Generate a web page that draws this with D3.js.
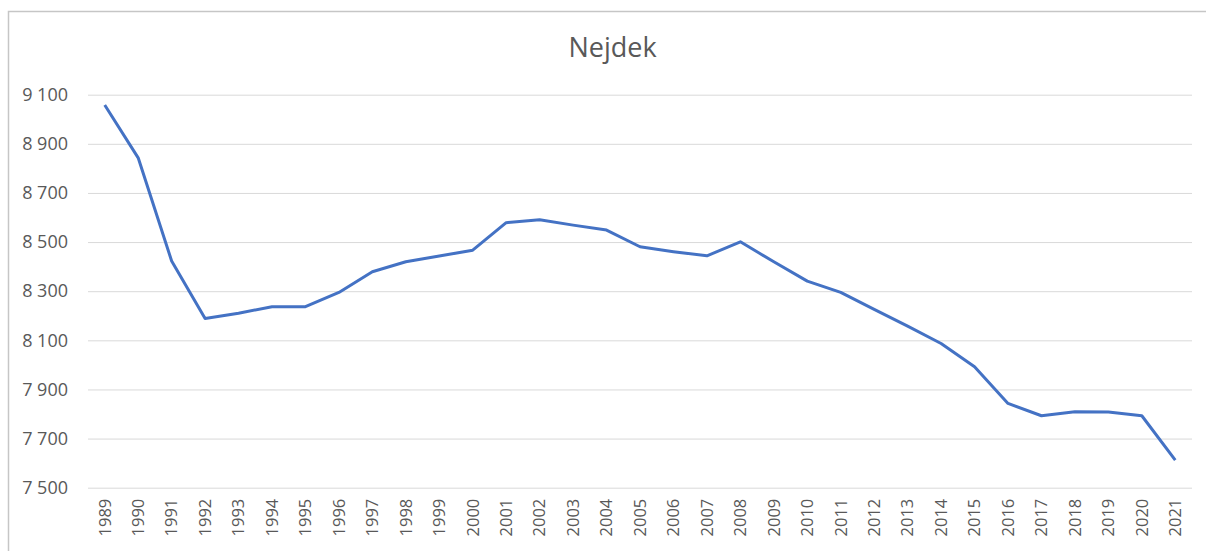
<!DOCTYPE html>
<html>
<head>
<meta charset="utf-8">
<script src="https://cdn.jsdelivr.net/npm/d3@7"></script>
<style>
  body { margin: 0; background: #fff; }
  svg { display: block; font-family: 'Open Sans', sans-serif; }
</style>
</head>
<body>
<svg id="chart"></svg>
<script>
// roky a počet obyvatel
const years = ['1989', '1990', '1991', '1992', '1993', '1994', '1995', '1996', '1997', '1998', '1999',
  '2000', '2001', '2002', '2003', '2004', '2005', '2006', '2007', '2008', '2009', '2010',
  '2011', '2012', '2013', '2014', '2015', '2016', '2017', '2018', '2019', '2020', '2021']
const population = [9058, 8843, 8423, 8189, 8210, 8237, 8237, 8295, 8379, 8420, 8443,
  8467, 8579, 8591, 8569, 8549, 8481, 8461, 8444, 8501, 8420, 8341,
  8295, 8226, 8158, 8087, 7992, 7843, 7793, 7809, 7808, 7793, 7612]
const yTicks = [7500, 7700, 7900, 8100, 8300, 8500, 8700, 8900, 9100]
const title = 'Nejdek'

const width = 1206
const height = 551
const plotLeft = 88
const plotRight = 1192
const plotTop = 94.7
const plotBottom = 487.7
const textColor = '#595959'

let svg = d3.select('#chart').attr('width', width).attr('height', height)

// rámeček grafu
svg.append('rect')
  .attr('x', 8.5).attr('y', 11.5)
  .attr('width', 1300).attr('height', 700)
  .attr('fill', 'none')
  .attr('stroke', '#c6c6c6')
  .attr('stroke-width', 1.5)

let scaleX = d3.scaleBand().domain(years).range([plotLeft, plotRight])
let scaleY = d3.scaleLinear().domain([7500, 9100]).range([plotBottom, plotTop])

// mřížka + popisky osy Y
let axisY = d3.axisLeft(scaleY)
  .tickValues(yTicks)
  .tickSize(-(plotRight - plotLeft))
  .tickPadding(20)
  .tickFormat(d => d3.format(',')(d).replace(',', ' '))

let gy = svg.append('g')
  .attr('transform', `translate(${plotLeft}, 0)`)
  .call(axisY)
gy.select('.domain').remove()
gy.selectAll('line').attr('stroke', '#d9d9d9').attr('stroke-width', 1)
gy.selectAll('text')
  .attr('fill', textColor)
  .style('font-size', '18px')
  .style('font-family', "'Open Sans', sans-serif")

// popisky osy X - svisle
let axisX = d3.axisBottom(scaleX).tickSize(0).tickPadding(0)
let gx = svg.append('g')
  .attr('transform', `translate(0, ${plotBottom})`)
  .call(axisX)
gx.select('.domain').remove()
gx.selectAll('text')
  .attr('fill', textColor)
  .style('font-size', '16.5px')
  .style('font-family', "'Open Sans', sans-serif")
  .style('text-anchor', 'end')
  .attr('y', 0)
  .attr('x', -11)
  .attr('dy', '0.35em')
  .attr('transform', 'rotate(-90)')

// čára
let line = d3.line()
  .x((d, i) => scaleX(years[i]) + scaleX.bandwidth() / 2)
  .y(d => scaleY(d))

svg.append('path')
  .datum(population)
  .attr('d', line)
  .attr('fill', 'none')
  .attr('stroke', '#4472c4')
  .attr('stroke-width', 3)
  .attr('stroke-linejoin', 'round')

// nadpis
svg.append('text')
  .attr('x', 612.5)
  .attr('y', 57)
  .attr('text-anchor', 'middle')
  .attr('fill', textColor)
  .style('font-size', '27px')
  .text(title)
</script>
</body>
</html>
